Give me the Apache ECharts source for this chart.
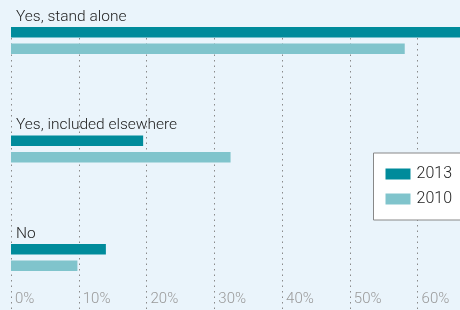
<!DOCTYPE html>
<html>
<head>
<meta charset="utf-8">
<style>
html, body { margin: 0; padding: 0; background: #eaf4fb; }
#chart { width: 460px; height: 310px; }
</style>
<script src="https://cdn.jsdelivr.net/npm/echarts@6/dist/echarts.min.js"></script>
</head>
<body>
<div id="chart"></div>
<script>
var chart = echarts.init(document.getElementById('chart'));

var categories = ['Yes, stand alone', 'Yes, included elsewhere', 'No'];
var values_2013 = [68, 19.5, 14];
var values_2010 = [58.1, 32.4, 9.8];
var tick_max = 66.55;

var font = 'Roboto, "Liberation Sans", sans-serif';

var option = {
    backgroundColor: '#eaf4fb',
    animation: false,
    grid: [
        // bars (band is taller than the page so the first group sits near the top)
        { left: 11, right: -2, top: -13.75, height: 325.5, outerBoundsMode: 'none' },
        // dotted grid lines + tick labels
        { left: 11, right: -2, top: 27, bottom: 0, outerBoundsMode: 'none' }
    ],
    legend: {
        orient: 'vertical',
        right: -40,
        top: 153,
        padding: [13, 48, 13, 12],
        itemWidth: 25,
        itemHeight: 11,
        itemGap: 9,
        backgroundColor: '#ffffff',
        borderColor: '#888888',
        borderWidth: 1,
        icon: 'rect',
        textStyle: { fontFamily: font, fontSize: 16, fontWeight: 300, color: '#222', padding: [0, 0, 0, 1] },
        data: ['2013', '2010']
    },
    xAxis: [
        {
            gridIndex: 0, type: 'value', min: 0, max: tick_max, interval: 10,
            show: false
        },
        {
            gridIndex: 1, type: 'value', min: 0, max: tick_max, interval: 10,
            axisLine: { show: false },
            axisTick: { show: false },
            axisLabel: {
                inside: true,
                align: 'left',
                margin: 3,
                padding: [0, 0, 0, 4],
                color: '#999',
                fontFamily: font,
                fontSize: 15,
                fontWeight: 300,
                formatter: function (v) { return v % 10 === 0 ? v + '%' : ''; }
            },
            splitLine: {
                show: true,
                lineStyle: { color: '#8a8a8a', width: 1, type: [1.5, 4] }
            }
        }
    ],
    yAxis: [
        {
            gridIndex: 0, type: 'category', inverse: true,
            data: categories, show: false
        },
        {
            gridIndex: 1, type: 'value', show: false
        }
    ],
    series: [
        {
            name: '2013',
            type: 'bar',
            xAxisIndex: 0, yAxisIndex: 0,
            barWidth: 10.5,
            barGap: '57%',
            itemStyle: { color: '#008b9b' },
            label: {
                show: true,
                position: [5, -2],
                align: 'left',
                verticalAlign: 'bottom',
                formatter: '{b}',
                fontFamily: font,
                fontSize: 15.5,
                fontWeight: 300,
                color: '#222'
            },
            data: values_2013
        },
        {
            name: '2010',
            type: 'bar',
            xAxisIndex: 0, yAxisIndex: 0,
            barWidth: 10.5,
            itemStyle: { color: '#80c4cc' },
            data: values_2010
        }
    ]
};

chart.setOption(option);
</script>
</body>
</html>
